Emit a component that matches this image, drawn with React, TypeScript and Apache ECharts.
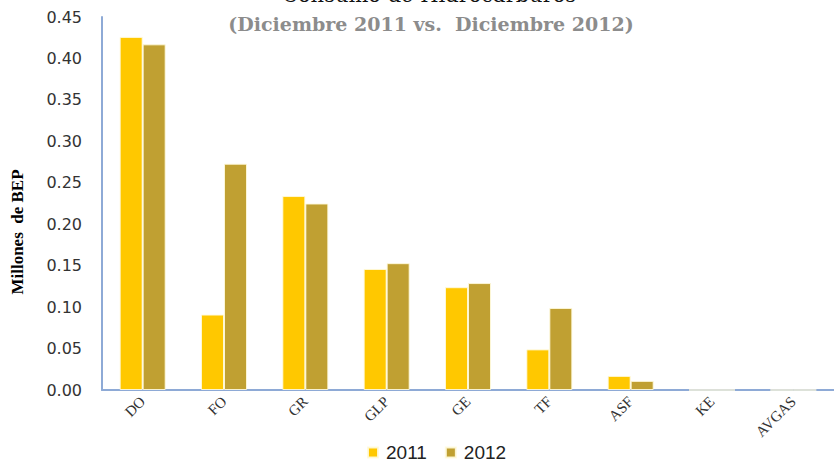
import React, { useEffect, useRef } from "react";
import * as echarts from "echarts";

const categories = ["DO", "FO", "GR", "GLP", "GE", "TF", "ASF", "KE", "AVGAS"];
const values2011 = [0.426, 0.091, 0.234, 0.146, 0.124, 0.049, 0.017, 0, 0];
const values2012 = [0.417, 0.273, 0.225, 0.153, 0.129, 0.099, 0.011, 0, 0];
const yTicks = { min: 0, max: 0.45, interval: 0.05 };
const titleText = "Consumo de Hidrocarburos";
const subtitleText = "(Diciembre 2011 vs.  Diciembre 2012)";
const yName = "Millones  de BEP";
const seriesNames = ["2011", "2012"];

export default function App() {
  const ref = useRef<HTMLDivElement>(null);
  useEffect(() => {
    document.body.style.margin = "0";
    const chart = echarts.init(ref.current!, null, { renderer: "svg" });
    const barBorder = { borderColor: "rgba(255,250,220,0.9)", borderWidth: 1 };
    chart.setOption({
      animation: false,
      backgroundColor: "#ffffff",
      grid: { left: 102, top: 17, width: 734, height: 373, containLabel: false },
      legend: {
        top: 443,
        left: 367,
        padding: 0,
        itemWidth: 10,
        itemHeight: 10,
        itemGap: 18,
        icon: "rect",
        textStyle: { fontFamily: "Liberation Sans", fontSize: 19, lineHeight: 19, color: "#222", padding: [0, 0, 0, 3] },
        data: seriesNames,
      },
      graphic: [
        {
          type: "text",
          x: 429,
          y: 5,
          style: {
            text: titleText,
            fontFamily: "DejaVu Serif",
            fontSize: 21,
            fill: "#111",
            textAlign: "center",
            textVerticalAlign: "bottom",
          },
        },
        {
          type: "text",
          x: 431,
          y: 24,
          style: {
            text: subtitleText,
            fontFamily: "DejaVu Serif",
            fontWeight: "bold",
            fontSize: 19,
            fill: "#8c8c8c",
            textAlign: "center",
            textVerticalAlign: "middle",
          },
        },
        {
          type: "text",
          x: 17,
          y: 232,
          rotation: Math.PI / 2,
          style: {
            text: yName,
            fontFamily: "Liberation Serif",
            fontWeight: "bold",
            fontSize: 17,
            fill: "#000",
            textAlign: "center",
            textVerticalAlign: "middle",
          },
        },
      ],
      xAxis: {
        type: "category",
        data: categories,
        axisLine: { lineStyle: { color: "#8eaad6", width: 2 } },
        axisTick: { show: false },
        axisLabel: {
          rotate: 45,
          margin: 9,
          fontFamily: "Liberation Serif",
          fontSize: 15,
          color: "#333",
        },
      },
      yAxis: {
        type: "value",
        min: yTicks.min,
        max: yTicks.max,
        interval: yTicks.interval,
        splitLine: { show: false },
        axisLine: { show: true, lineStyle: { color: "#8eaad6", width: 2 } },
        axisTick: { show: false },
        axisLabel: {
          margin: 20,
          fontFamily: "DejaVu Sans",
          fontSize: 16,
          color: "#333",
          formatter: (v: number) => v.toFixed(2),
        },
      },
      series: [
        {
          name: seriesNames[0],
          type: "bar",
          data: values2011,
          barWidth: 23,
          barGap: "0%",
          itemStyle: { color: "#ffc800", ...barBorder },
        },
        {
          name: seriesNames[1],
          type: "bar",
          data: values2012,
          barWidth: 23,
          itemStyle: { color: "#c0a032", ...barBorder },
        },
      ],
    });
    return () => chart.dispose();
  }, []);
  return <div ref={ref} style={{ width: 834, height: 463 }} />;
}
